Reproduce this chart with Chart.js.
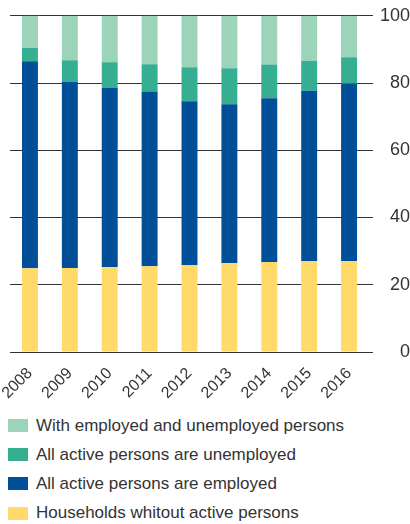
<!DOCTYPE html>
<html>
<head>
<meta charset="utf-8">
<script src="https://cdn.jsdelivr.net/npm/chart.js@4"></script>
<style>
  body { margin: 0; background: #fff; font-family: "Liberation Sans", Arial, sans-serif; }
  #wrap { position: relative; width: 410px; height: 524px; }
  #box { position: absolute; left: 0; top: 0; width: 410px; height: 400px; }
  #legend { position: absolute; left: 8px; top: 411px; color: #333; font-size: 17px; }
  .row { height: 29.2px; display: flex; align-items: center; }
  .sw { width: 20px; height: 13px; margin-right: 8px; }
</style>
</head>
<body>
<div id="wrap">
  <div id="box"><canvas id="chartBars"></canvas></div>
  <div id="legend"></div>
</div>
<script>
// years on the x axis
const years = ["2008", "2009", "2010", "2011", "2012", "2013", "2014", "2015", "2016"];

// shares in percent
const noActive = [24.9, 25.0, 25.3, 25.5, 25.8, 26.5, 26.8, 27.0, 27.1];
const allEmployed = [61.6, 55.4, 53.2, 52.0, 48.8, 47.2, 48.7, 50.7, 52.7];
const allUnemployed = [3.9, 6.4, 7.7, 8.1, 10.1, 10.7, 10.0, 8.9, 7.9];
const mixed = [9.6, 13.2, 13.8, 14.4, 15.3, 15.6, 14.5, 13.4, 12.3];

const yTicks = [0, 20, 40, 60, 80, 100];

const series = [
  { label: "Households whitout active persons", data: noActive, color: "#ffd96a" },
  { label: "All active persons are employed", data: allEmployed, color: "#004f98" },
  { label: "All active persons are unemployed", data: allUnemployed, color: "#35ae92" },
  { label: "With employed and unemployed persons", data: mixed, color: "#9bd4b8" }
];

const ctx = document.getElementById('chartBars').getContext('2d');

const chart = new Chart(ctx, {
  type: 'bar',
  data: {
    labels: years,
    datasets: series.map(s => ({
      label: s.label,
      data: s.data,
      backgroundColor: s.color,
      barPercentage: 0.4,
      categoryPercentage: 1
    }))
  },
  options: {
    responsive: true,
    maintainAspectRatio: false,
    animation: false,
    layout: { padding: { left: 10, top: 15, right: 0, bottom: 0 } },
    plugins: { legend: { display: false }, tooltip: { enabled: false } },
    scales: {
      x: {
        stacked: true,
        grid: { display: false },
        border: { display: false },
        ticks: {
          color: '#333',
          font: { family: '"Liberation Sans", Arial', size: 16 },
          minRotation: 45,
          maxRotation: 45,
          padding: 4
        },
        afterFit: s => { s.height = 48; }
      },
      y: {
        stacked: true,
        position: 'right',
        min: 0,
        max: 100,
        afterBuildTicks: s => { s.ticks = yTicks.map(v => ({ value: v })); },
        grid: { color: '#333', lineWidth: 1, tickLength: 4, tickColor: '#333' },
        border: { display: false },
        ticks: {
          color: '#333',
          font: { family: '"Liberation Sans", Arial', size: 18 },
          crossAlign: 'far',
          padding: 5
        },
        afterFit: s => { s.width = 41; }
      }
    }
  }
});

// legend, top series first
const legend = document.getElementById('legend');
series.slice().reverse().forEach(s => {
  const row = document.createElement('div');
  row.className = 'row';
  row.innerHTML = '<span class="sw" style="background:' + s.color + '"></span><span>' + s.label + '</span>';
  legend.appendChild(row);
});
</script>
</body>
</html>
